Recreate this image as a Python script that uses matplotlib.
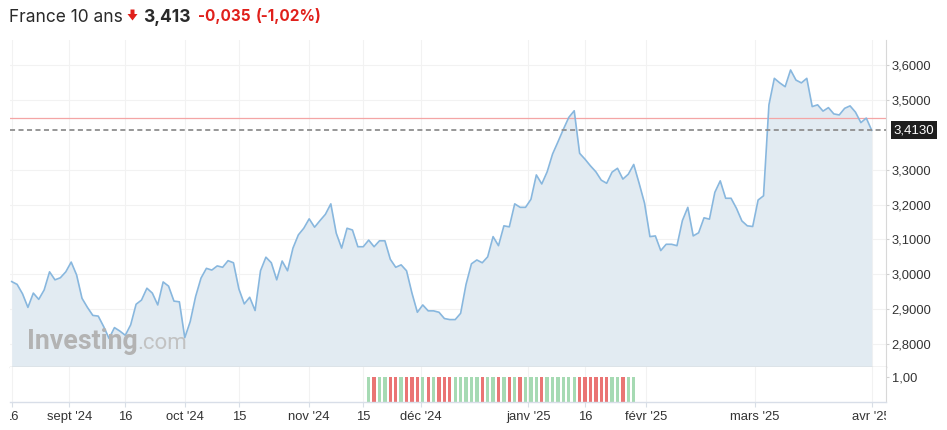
import numpy as np
import pandas as pd
import matplotlib
matplotlib.use("Agg")
import matplotlib.pyplot as plt
from matplotlib.patches import Polygon
from matplotlib.transforms import Bbox, TransformedBbox, blended_transform_factory

# ---------------- data ----------------
start_date = "2024-08-16"
end_date = "2025-04-01"
holidays = ["2024-12-25", "2024-12-26", "2025-01-01"]

yields = [
    2.979, 2.971, 2.944, 2.905, 2.946, 2.928, 2.955, 3.007, 2.984, 2.990,
    3.007, 3.035, 2.998, 2.931, 2.905, 2.882, 2.880, 2.850, 2.816, 2.847,
    2.837, 2.825, 2.855, 2.914, 2.926, 2.960, 2.946, 2.912, 2.978, 2.966,
    2.923, 2.921, 2.818, 2.864, 2.936, 2.989, 3.017, 3.012, 3.024, 3.020,
    3.039, 3.033, 2.958, 2.915, 2.934, 2.896, 3.010, 3.049, 3.033, 2.984,
    3.038, 3.010, 3.075, 3.113, 3.132, 3.159, 3.135, 3.154, 3.172, 3.202,
    3.118, 3.075, 3.132, 3.127, 3.079, 3.079, 3.098, 3.079, 3.096, 3.096,
    3.043, 3.020, 3.027, 3.010, 2.946, 2.891, 2.912, 2.895, 2.895, 2.891,
    2.873, 2.870, 2.870, 2.888, 2.971, 3.030, 3.041, 3.033, 3.050, 3.108,
    3.082, 3.139, 3.136, 3.202, 3.192, 3.192, 3.215, 3.285, 3.259, 3.294,
    3.345, 3.380, 3.416, 3.450, 3.469, 3.347, 3.330, 3.311, 3.294, 3.270,
    3.261, 3.293, 3.304, 3.273, 3.287, 3.315, 3.261, 3.204, 3.108, 3.110,
    3.068, 3.086, 3.086, 3.082, 3.154, 3.192, 3.110, 3.119, 3.162, 3.158,
    3.235, 3.268, 3.218, 3.218, 3.189, 3.153, 3.139, 3.137, 3.213, 3.225,
    3.486, 3.562, 3.549, 3.538, 3.586, 3.557, 3.549, 3.562, 3.481, 3.486,
    3.468, 3.478, 3.460, 3.457, 3.476, 3.483, 3.465, 3.435, 3.448, 3.413,
]

volume_start = "2024-11-18"
volume = [
    1.0, 1.0, 1.0, 1.0, 1.0, 1.0, 1.0, 1.0, 1.0, 1.0,
    1.0, 1.0, 1.0, 1.0, 1.0, 1.0, 1.0, 1.0, 1.0, 1.0,
    1.0, 1.0, 1.0, 1.0, 1.0, 1.0, 1.0, 1.0, 1.0, 1.0,
    1.0, 1.0, 1.0, 1.0, 1.0, 1.0, 1.0, 1.0, 1.0, 1.0,
    1.0, 1.0, 1.0, 1.0, 1.0, 1.0, 1.0, 1.0, 1.0, 1.0,
]

title = "France 10 ans"
last_value = 3.413
prev_close = 3.448
change = -0.035
change_pct = -1.02

tick_dates = ["2024-08-16", "2024-09-01", "2024-09-16", "2024-10-01", "2024-10-15",
              "2024-11-01", "2024-11-15", "2024-12-01", "2025-01-01", "2025-01-16",
              "2025-02-01", "2025-03-01", "2025-04-01"]
tick_labels = ["16", "sept '24", "16", "oct '24", "15", "nov '24", "15", "déc '24",
               "janv '25", "16", "févr '25", "mars '25", "avr '25"]
price_ticks = [2.8, 2.9, 3.0, 3.1, 3.2, 3.3, 3.5, 3.6]
volume_ticks = [1.0]

# ---------------- layout ----------------
W, H = 947, 430
fig = plt.figure(figsize=(W / 100, H / 100), dpi=100)
fig.patch.set_facecolor("white")

def fx(px):
    return px / W

def fy(py):
    return 1 - py / H

L, R = 10, 886
TOP, MID, BOT = 40, 367, 402

dates = pd.bdate_range(start_date, end_date, freq="C", holidays=holidays)
idx = np.arange(len(dates))
y = np.array(yields)

px_per = (871.7 - 11.7) / (len(dates) - 1)
xlo = (L - 11.7) / px_per
xhi = (R - 11.7) / px_per

ax = fig.add_axes([fx(L), fy(MID), fx(R - L), (MID - TOP) / H])
axv = fig.add_axes([fx(L), fy(BOT), fx(R - L), (BOT - MID) / H], sharex=ax)

ylo, yhi = 2.734, 3.672
ax.set_xlim(xlo, xhi)
ax.set_ylim(ylo, yhi)

tick_font = "Liberation Sans"
lab_col = "#333333"

# tick positions (calendar dates interpolated on trading-day index)
d_ord = np.array([d.toordinal() for d in dates])
t_ord = np.array([pd.Timestamp(t).toordinal() for t in tick_dates])
tick_pos = np.interp(t_ord, d_ord, idx)

# price panel
ax.fill_between(idx, y, ylo, color="#e2ebf2", lw=0, zorder=1)
ax.plot(idx, y, color="#88b7de", lw=1.2, zorder=3, solid_joinstyle="round")
ax.axhline(prev_close, color="#f4a5a5", lw=0.9, zorder=2)
ax.axhline(last_value, color="#8f8f8f", lw=1.3, ls=(0, (2.8, 1.9)), zorder=4)

ax.set_xticks(tick_pos)
ax.tick_params(axis="x", length=0, labelbottom=False)
ax.yaxis.tick_right()
ax.set_yticks(price_ticks)
ax.set_yticklabels([f"{v:.4f}".replace(".", ",") for v in price_ticks],
                   fontsize=9.3, color=lab_col, family=tick_font)
ax.tick_params(axis="y", length=2.5, width=0.8, color="#d0d0d0", pad=1.5)
ax.grid(True, color="#f2f2f2", lw=0.8, zorder=0)
ax.set_axisbelow(True)
for s in ["top", "left"]:
    ax.spines[s].set_visible(False)
ax.spines["right"].set_color("#d8d8d8")
ax.spines["right"].set_linewidth(0.8)
ax.spines["bottom"].set_color("#c4c4c4")
ax.spines["bottom"].set_linewidth(1.0)

# current value box
bt = blended_transform_factory(ax.transAxes, ax.transData)
ax.text(1 + 7.5 / (R - L), last_value, f"{last_value:.4f}".replace(".", ","),
        transform=bt, ha="left", va="center", fontsize=9.5, color="white",
        family=tick_font, clip_on=False, zorder=10,
        bbox=dict(boxstyle="square,pad=0.22", fc="#1e1e1e", ec="none"))

# volume panel
v0 = int(np.where(dates == pd.Timestamp(volume_start))[0][0])
vidx = idx[v0:v0 + len(volume)]
diffs = np.diff(y, prepend=y[0])[v0:v0 + len(volume)]
vcols = ["#a6dab3" if d >= 0 else "#ea7474" for d in diffs]
axv.bar(vidx, volume, width=0.62, color=vcols, lw=0, zorder=2)
axv.set_ylim(0, 1.4)
axv.yaxis.tick_right()
axv.set_yticks(volume_ticks)
axv.set_yticklabels([f"{v:.2f}".replace(".", ",") for v in volume_ticks],
                    fontsize=9.3, color=lab_col, family=tick_font)
axv.tick_params(axis="y", length=2.5, width=0.8, color="#d0d0d0", pad=1.5)
axv.set_xticks(tick_pos)
axv.set_xticklabels(tick_labels, fontsize=9.4, color=lab_col, family=tick_font)
axv.tick_params(axis="x", length=3.5, width=0.8, color="#d8dee6", pad=3)
axv.grid(True, axis="x", color="#f2f2f2", lw=0.8, zorder=0)
axv.set_axisbelow(True)
for s in ["top", "left"]:
    axv.spines[s].set_visible(False)
axv.spines["right"].set_color("#d8d8d8")
axv.spines["right"].set_linewidth(0.8)
axv.spines["bottom"].set_color("#d8dee8")
axv.spines["bottom"].set_linewidth(1.0)

clip = TransformedBbox(Bbox([[0, -2], [1, 2]]), axv.transAxes)
for lab in axv.get_xticklabels():
    lab.set_clip_box(clip)
    lab.set_clip_on(True)

# watermark
fig.text(fx(27), fy(349), "Investing", fontsize=19.3, weight="bold",
         color="#b3b3b3", family="Roboto", va="baseline", ha="left", zorder=5)
fig.text(fx(137), fy(349), ".com", fontsize=16, color="#c2c2c2",
         family="Roboto", va="baseline", ha="left", zorder=5)

# header
hfont = "Inter"
fig.text(fx(9), fy(21.5), title, fontsize=12.5, color="#2a2a2a", family=hfont,
         va="baseline", ha="left")
arrow = [(130.5, 9.5), (134.5, 9.5), (134.5, 14), (137.5, 14), (132.5, 20.5),
         (127.5, 14), (130.5, 14)]
fig.add_artist(Polygon([(fx(a), fy(b)) for a, b in arrow], closed=True,
                       transform=fig.transFigure, fc="#e0201b", ec="none"))
fig.text(fx(143), fy(21.5), f"{last_value:.3f}".replace(".", ","), fontsize=12.5,
         weight="bold", color="#2a2a2a", family=hfont, va="baseline", ha="left")
red = "#e0201b"
fig.text(fx(198), fy(21.5), f"{change:+.3f}".replace(".", ","), fontsize=11,
         weight="bold", color=red, family=hfont, va="baseline", ha="left")
fig.text(fx(256), fy(21.5), f"({change_pct:+.2f}%)".replace(".", ","), fontsize=11,
         weight="bold", color=red, family=hfont, va="baseline", ha="left")

fig.savefig("out.png", dpi=100, facecolor="white")
